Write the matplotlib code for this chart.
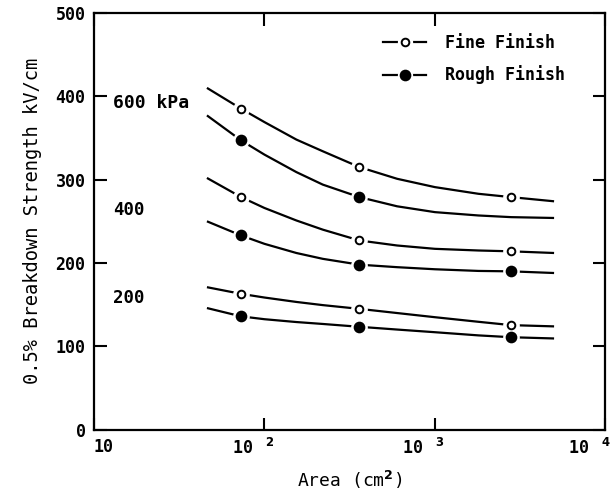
import matplotlib
matplotlib.use("Agg")
import matplotlib.pyplot as plt
import matplotlib.transforms as mtransforms
from matplotlib.legend_handler import HandlerTuple
from matplotlib.lines import Line2D

# Data
area = [46, 73, 100, 154, 220, 361, 600, 1000, 1800, 2800, 5000]
fine_600 = [410, 385, 369, 348, 334, 315, 301, 291, 283, 279, 274]
rough_600 = [377, 347, 330, 309, 294, 279, 268, 261, 257, 255, 254]
fine_400 = [302, 279, 266, 251, 240, 227, 221, 217, 215, 214, 212]
rough_400 = [250, 233, 223, 212, 205, 198, 195, 192.5, 190.5, 190, 188]
fine_200 = [171, 163, 158.6, 153.3, 149.5, 145, 140, 135, 129.5, 125.5, 124]
rough_200 = [146, 136, 132.6, 129.2, 126.9, 123.5, 120.2, 117, 113.2, 111, 109.5]
# which points of each curve carry a measured marker
marked = [1, 5, 9]
marked_rough_600 = [1, 5]

pressure_labels = ["600 kPa", "400", "200"]
pressure_pos = [(13, 392), (13, 264), (13, 158)]
xtick_vals = [10, 100, 1000, 10000]
xtick_text = ['10', '10 $^{\\;2}$', '10 $^{\\;3}$', '10 $^{\\;4}$']

plt.rcParams['font.family'] = ['DejaVu Sans Mono']
plt.rcParams['font.weight'] = 'bold'
plt.rcParams['mathtext.default'] = 'bf'

fig = plt.figure(figsize=(6.14, 4.94), dpi=100)
ax = fig.add_axes([0.153, 0.130, 0.833, 0.844])

curves = [
    (fine_600, marked, 'white'),
    (rough_600, marked_rough_600, 'black'),
    (fine_400, marked, 'white'),
    (rough_400, marked, 'black'),
    (fine_200, marked, 'white'),
    (rough_200, marked, 'black'),
]
for vals, idx, face in curves:
    ax.plot(area, vals, color='black', lw=1.6, zorder=2, solid_capstyle='butt')
    mx = [area[i] for i in idx]
    my = [vals[i] for i in idx]
    # white halo so the line breaks around the marker
    ax.plot(mx, my, ls='none', marker='o', ms=11, mfc='white', mec='white', zorder=3)
    ax.plot(mx, my, ls='none', marker='o', ms=5.5 if face == 'white' else 7,
            mfc=face, mec='black', mew=1.4, zorder=4)

# legend handles: line + white halo + marker, overlaid
def legend_handle(face, size):
    ln = Line2D([], [], color='black', lw=1.6)
    halo = Line2D([], [], ls='none', marker='o', ms=10, mfc='white', mec='white')
    mk = Line2D([], [], ls='none', marker='o', ms=size, mfc=face, mec='black', mew=1.4)
    return (ln, halo, mk)

ax.legend([legend_handle('white', 5.5), legend_handle('black', 7)],
          ['Fine Finish', 'Rough Finish'], loc='upper right', frameon=False,
          fontsize=12, handlelength=2.6, handletextpad=1.1,
          bbox_to_anchor=(0.95, 0.985), labelspacing=0.8,
          handler_map={tuple: HandlerTuple(ndivide=1, pad=0)})

for txt, (px, py) in zip(pressure_labels, pressure_pos):
    ax.text(px, py, txt, fontsize=13 if 'kPa' in txt else 12.5, va='center', ha='left')

ax.set_xscale('log')
ax.set_xlim(10, 1e4)
ax.set_ylim(0, 500)
ax.set_xticks(xtick_vals)
ax.set_xticklabels(xtick_text)
ax.xaxis.set_minor_locator(matplotlib.ticker.NullLocator())
ax.set_yticks([0, 100, 200, 300, 400, 500])
ax.tick_params(direction='in', length=9, width=1.5, labelsize=12, top=True, right=True, pad=6)
for s in ax.spines.values():
    s.set_linewidth(1.6)

# tick label placement like the original: first left-aligned, others right of the tick
shift = mtransforms.ScaledTranslation(10 / 100, 0, fig.dpi_scale_trans)
shift_last = mtransforms.ScaledTranslation(6 / 100, 0, fig.dpi_scale_trans)
labels = ax.get_xticklabels()
for i, lab in enumerate(labels):
    if i == 0:
        lab.set_ha('left')
    else:
        lab.set_ha('right')
        lab.set_transform(lab.get_transform() + (shift_last if i == len(labels) - 1 else shift))

ax.set_xlabel('Area (cm$^2$)', fontsize=13, labelpad=8)
ax.set_ylabel('0.5% Breakdown Strength kV/cm', fontsize=13.5, labelpad=10)

fig.savefig('out.png', dpi=100)
